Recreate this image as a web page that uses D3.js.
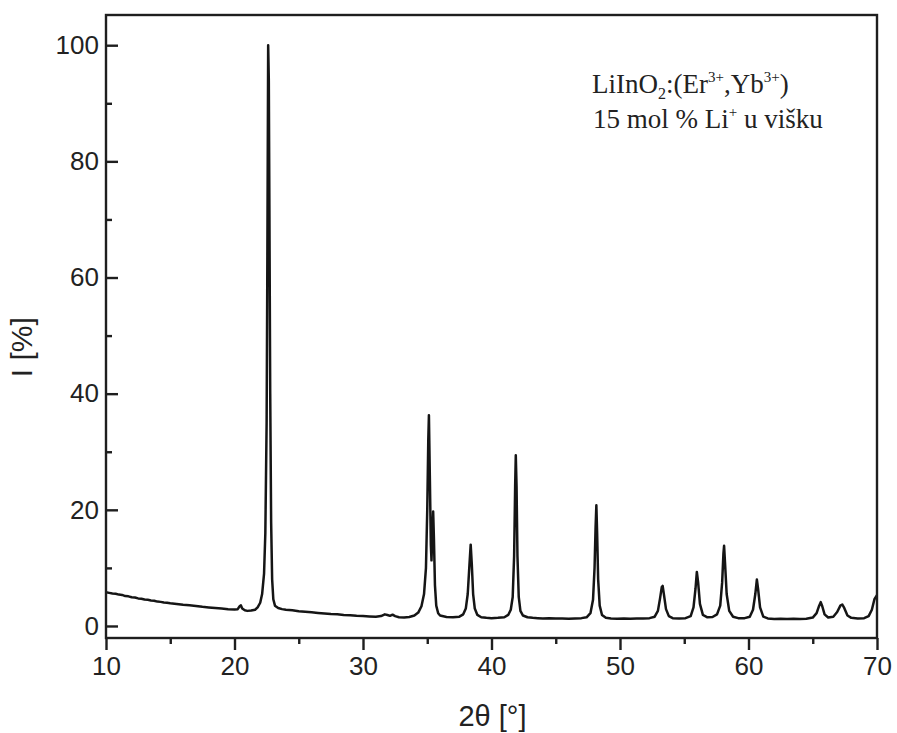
<!DOCTYPE html>
<html>
<head>
<meta charset="utf-8">
<script src="https://cdn.jsdelivr.net/npm/d3@7"></script>
<style>
  body { margin: 0; background: #fff; }
</style>
</head>
<body>
<div id="chart"></div>
<script>
// 2θ [deg], I [%]
var pattern = [
  [10.0, 5.8], [10.25, 5.7], [10.5, 5.6], [10.75, 5.55], [11.0, 5.4], [11.25, 5.35],
  [11.5, 5.15], [11.75, 5.1], [12.0, 4.95], [12.25, 4.9], [12.5, 4.75], [12.75, 4.7],
  [13.0, 4.55], [13.25, 4.5], [13.5, 4.4], [13.75, 4.35], [14.0, 4.2], [14.25, 4.15],
  [14.5, 4.05], [14.75, 4.0], [15.0, 3.9], [15.5, 3.8], [16.0, 3.65], [16.5, 3.55],
  [17.0, 3.45], [17.5, 3.3], [18.0, 3.2], [18.5, 3.1], [19.0, 3.0], [19.5, 2.9],
  [20.0, 2.85], [20.25, 2.9], [20.4, 3.4], [20.5, 3.55], [20.6, 3.0], [20.8, 2.7],
  [21.0, 2.6], [21.3, 2.65], [21.6, 2.8], [21.8, 3.2], [22.0, 4.0], [22.15, 5.5],
  [22.3, 9], [22.4, 16], [22.5, 35], [22.56, 65], [22.62, 100], [22.67, 94],
  [22.72, 70], [22.78, 40], [22.85, 18], [22.93, 8], [23.02, 4.6], [23.15, 3.5],
  [23.4, 3.1], [23.7, 2.9], [24.0, 2.8], [24.5, 2.7], [25.0, 2.55], [25.5, 2.45],
  [26.0, 2.35], [26.5, 2.25], [27.0, 2.15], [27.5, 2.05], [28.0, 2.0], [28.5, 1.9],
  [29.0, 1.85], [29.5, 1.75], [30.0, 1.7], [30.5, 1.65], [31.0, 1.6], [31.4, 1.7],
  [31.7, 2.0], [31.9, 1.9], [32.1, 1.75], [32.3, 1.95], [32.5, 1.7], [32.8, 1.5],
  [33.2, 1.45], [33.6, 1.55], [34.0, 1.8], [34.3, 2.3], [34.55, 3.4], [34.75, 5.5],
  [34.9, 10], [35.0, 20], [35.08, 32], [35.13, 36.3], [35.2, 26], [35.28, 14],
  [35.33, 11.3], [35.4, 16], [35.46, 19.7], [35.52, 15], [35.6, 7], [35.7, 3.5],
  [35.85, 2.2], [36.0, 1.8], [36.5, 1.55], [37.0, 1.5], [37.5, 1.6], [37.8, 2.0],
  [38.0, 3.0], [38.15, 5.5], [38.27, 10], [38.38, 14.0], [38.47, 10.5], [38.57, 5.5],
  [38.7, 3.0], [38.9, 1.9], [39.2, 1.5], [39.6, 1.4], [40.0, 1.35], [40.5, 1.4],
  [41.0, 1.5], [41.3, 1.9], [41.5, 2.8], [41.65, 5], [41.76, 12], [41.84, 24],
  [41.89, 29.4], [41.95, 24], [42.02, 12], [42.12, 5], [42.25, 2.6], [42.45, 1.8],
  [42.8, 1.5], [43.2, 1.4], [43.6, 1.35], [44.0, 1.3], [44.5, 1.35], [45.0, 1.3],
  [45.5, 1.3], [46.0, 1.25], [46.5, 1.3], [47.0, 1.35], [47.4, 1.5], [47.7, 2.2],
  [47.9, 4.5], [48.02, 10], [48.1, 17], [48.16, 20.8], [48.22, 16], [48.3, 8],
  [48.42, 3.5], [48.6, 1.9], [48.9, 1.4], [49.3, 1.3], [49.8, 1.25], [50.3, 1.3],
  [50.8, 1.25], [51.3, 1.3], [51.8, 1.3], [52.3, 1.35], [52.7, 1.6], [52.95, 2.6],
  [53.12, 4.8], [53.25, 6.7], [53.32, 6.9], [53.42, 5.4], [53.58, 2.9], [53.8, 1.7],
  [54.1, 1.35], [54.6, 1.3], [55.1, 1.35], [55.5, 1.7], [55.72, 3.2], [55.88, 6.5],
  [55.98, 9.3], [56.08, 7.5], [56.22, 3.8], [56.45, 1.9], [56.8, 1.5], [57.2, 1.55],
  [57.55, 2.0], [57.8, 3.5], [57.95, 7.5], [58.05, 12.5], [58.1, 13.8], [58.17, 11],
  [58.3, 5.5], [58.5, 2.6], [58.8, 1.6], [59.2, 1.35], [59.7, 1.35], [60.1, 1.6],
  [60.35, 2.8], [60.53, 5.5], [60.65, 8.0], [60.75, 6.3], [60.9, 3.2], [61.15, 1.6],
  [61.5, 1.3], [62.0, 1.2], [62.5, 1.25], [63.0, 1.2], [63.5, 1.25], [64.0, 1.2],
  [64.5, 1.25], [65.0, 1.45], [65.3, 2.2], [65.5, 3.5], [65.62, 4.1], [65.74, 3.4],
  [65.92, 2.0], [66.2, 1.45], [66.6, 1.6], [66.9, 2.4], [67.15, 3.5], [67.3, 3.7],
  [67.45, 3.1], [67.7, 1.8], [68.0, 1.4], [68.5, 1.3], [69.0, 1.35], [69.35, 1.7],
  [69.6, 2.8], [69.8, 4.6], [70.0, 5.3]
];

var xMajorTicks = [10, 20, 30, 40, 50, 60, 70];
var xMinorTicks = [15, 25, 35, 45, 55, 65];
var yMajorTicks = [0, 20, 40, 60, 80, 100];
var yMinorTicks = [10, 30, 50, 70, 90];

var xTitle = '2θ [°]';
var yTitle = 'I [%]';

function XRDChart(option) {
  this.width = option.width || 0;
  this.height = option.height || 0;

  this.top = option.top || 0;
  this.bottom = option.bottom || 0;
  this.left = option.left || 0;
  this.right = option.right || 0;

  this.xDomain = option.xDomain;
  this.yDomain = option.yDomain;

  this.chart = d3.select(option.el)
    .append('svg')
    .attr('width', this.width)
    .attr('height', this.height)
    .style('font-family', 'Liberation Sans, Arial, sans-serif');

  this._init();
}

XRDChart.prototype._init = function () {
  this._drawLine();
  this._drawFrame();
  this._drawXAxis();
  this._drawYAxis();
  this._drawTitles();
  this._drawNote();
};

XRDChart.prototype._xScale = function () {
  return d3.scaleLinear()
    .domain(this.xDomain)
    .range([this.left, this.width - this.right]);
};
XRDChart.prototype._yScale = function () {
  return d3.scaleLinear()
    .domain(this.yDomain)
    .range([this.height - this.bottom, this.top]);
};

XRDChart.prototype._drawLine = function () {
  var x = this._xScale();
  var y = this._yScale();
  var line = d3.line()
    .x(function (d) { return x(d[0]); })
    .y(function (d) { return y(d[1]); });

  this.chart.append('path')
    .datum(pattern)
    .attr('fill', 'none')
    .attr('stroke', '#151515')
    .attr('stroke-width', 2.5)
    .attr('stroke-linejoin', 'round')
    .attr('d', line);
};

XRDChart.prototype._drawFrame = function () {
  this.chart.append('rect')
    .attr('x', this.left)
    .attr('y', this.top)
    .attr('width', this.width - this.left - this.right)
    .attr('height', this.height - this.top - this.bottom)
    .attr('fill', 'none')
    .attr('stroke', '#1e1e1e')
    .attr('stroke-width', 2.4);
};

XRDChart.prototype._styleAxis = function (g) {
  g.select('.domain').remove();
  g.selectAll('line').attr('stroke', '#1e1e1e').attr('stroke-width', 2.4);
  g.selectAll('text')
    .attr('fill', '#222')
    .style('font-size', '26px')
    .style('font-family', 'Liberation Sans, Arial, sans-serif');
};

XRDChart.prototype._drawXAxis = function () {
  var x = this._xScale();
  var yPos = this.height - this.bottom;

  this.chart.append('g')
    .attr('class', 'xAxis')
    .attr('transform', 'translate(0,' + yPos + ')')
    .call(d3.axisBottom(x).tickValues(xMajorTicks).tickSize(12).tickPadding(7).tickFormat(d3.format('d')))
    .call(this._styleAxis);

  this.chart.append('g')
    .attr('class', 'xAxisMinor')
    .attr('transform', 'translate(0,' + yPos + ')')
    .call(d3.axisBottom(x).tickValues(xMinorTicks).tickSize(6).tickFormat(''))
    .call(this._styleAxis);
};

XRDChart.prototype._drawYAxis = function () {
  var y = this._yScale();

  // ticks point inward
  this.chart.append('g')
    .attr('class', 'yAxis')
    .attr('transform', 'translate(' + this.left + ',0)')
    .call(d3.axisLeft(y).tickValues(yMajorTicks).tickSize(-12).tickPadding(7).tickFormat(d3.format('d')))
    .call(this._styleAxis);

  this.chart.append('g')
    .attr('class', 'yAxisMinor')
    .attr('transform', 'translate(' + this.left + ',0)')
    .call(d3.axisLeft(y).tickValues(yMinorTicks).tickSize(-6).tickFormat(''))
    .call(this._styleAxis);
};

XRDChart.prototype._drawTitles = function () {
  var x = this._xScale();
  var y = this._yScale();

  this.chart.append('text')
    .attr('x', x(d3.mean(this.xDomain)) + 1)
    .attr('y', this.height - 7)
    .attr('text-anchor', 'middle')
    .attr('fill', '#222')
    .style('font-size', '29px')
    .text(xTitle);

  this.chart.append('text')
    .attr('transform', 'translate(32,' + y(48) + ') rotate(-90)')
    .attr('text-anchor', 'middle')
    .attr('fill', '#222')
    .style('font-size', '30px')
    .text(yTitle);
};

XRDChart.prototype._drawNote = function () {
  var note = this.chart.append('g')
    .attr('class', 'note')
    .style('font-family', 'Liberation Serif, Times New Roman, serif')
    .attr('fill', '#222');

  var line1 = note.append('text')
    .attr('x', 592)
    .attr('y', 93)
    .style('font-size', '27px');
  line1.append('tspan').text('LiInO');
  line1.append('tspan').attr('dy', 6).style('font-size', '16px').text('2');
  line1.append('tspan').attr('dy', -6).text(':(Er');
  line1.append('tspan').attr('dy', -11).style('font-size', '15px').text('3+');
  line1.append('tspan').attr('dy', 11).text(',Yb');
  line1.append('tspan').attr('dy', -11).style('font-size', '15px').text('3+');
  line1.append('tspan').attr('dy', 11).text(')');

  var line2 = note.append('text')
    .attr('x', 593)
    .attr('y', 128)
    .style('font-size', '27px');
  line2.append('tspan').text('15 mol % Li');
  line2.append('tspan').attr('dy', -11).style('font-size', '15px').text('+');
  line2.append('tspan').attr('dy', 11).text(' u višku');
};

new XRDChart({
  el: '#chart',
  width: 897,
  height: 733,
  top: 15,
  bottom: 95,
  left: 106,
  right: 20,
  xDomain: [10, 70],
  yDomain: [-2.07, 105.2]
});
</script>
</body>
</html>
